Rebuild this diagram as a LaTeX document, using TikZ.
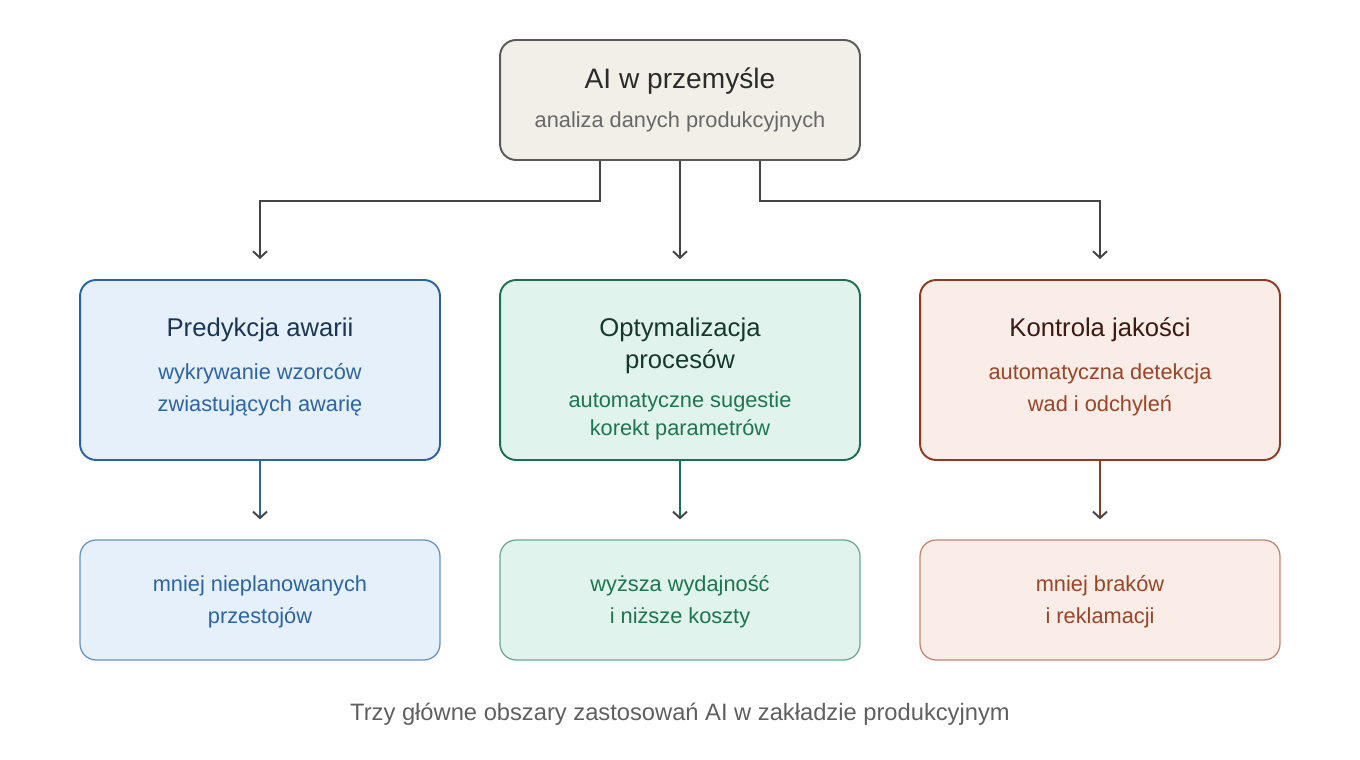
\documentclass[tikz,border=0pt]{standalone}
\usepackage{fontspec}
\setmainfont{Liberation Sans}
\usetikzlibrary{arrows.meta,positioning,calc}

\definecolor{topfill}{HTML}{F2EEE8}
\definecolor{topline}{HTML}{5A5A5A}
\definecolor{toptext}{HTML}{2B2B2B}
\definecolor{topsub}{HTML}{686868}
\definecolor{bluefill}{HTML}{E6F0FA}
\definecolor{blueline}{HTML}{2B62A0}
\definecolor{bluelight}{HTML}{6790C0}
\definecolor{bluetitle}{HTML}{1C3552}
\definecolor{bluetext}{HTML}{2C64A4}
\definecolor{greenfill}{HTML}{E0F3EC}
\definecolor{greenline}{HTML}{1E6E50}
\definecolor{greenlight}{HTML}{6AA890}
\definecolor{greentitle}{HTML}{17382C}
\definecolor{greentext}{HTML}{1E7552}
\definecolor{redfill}{HTML}{FAECE6}
\definecolor{redline}{HTML}{8E3A22}
\definecolor{redlight}{HTML}{C28470}
\definecolor{redtitle}{HTML}{3A1A12}
\definecolor{redtext}{HTML}{9A4428}
\definecolor{arrowgray}{HTML}{444444}
\definecolor{captext}{HTML}{5F5F5F}

\tikzset{
  box/.style={draw, rounded corners=0.32cm, line width=1.1pt, minimum width=7.2cm, inner sep=0pt},
  mainbox/.style={box, minimum height=3.6cm},
  resbox/.style={box, minimum height=2.4cm, line width=0.7pt},
  ttl/.style={anchor=mid, font=\fontsize{14.6}{18}\selectfont},
  ttlml/.style={align=center, font=\fontsize{14.6}{18}\selectfont},
  sub/.style={align=center, font=\fontsize{12.4}{18}\selectfont},
  link/.style={line width=1.1pt, -{Straight Barb[length=1.3mm,width=2.8mm,color=arrowgray]}, shorten >=0.4cm}
}

\begin{document}
\begin{tikzpicture}[x=0.02cm,y=-0.02cm]
\useasboundingbox (0,0) rectangle (1360,760);

% Top box
\node[box, minimum height=2.4cm, fill=topfill, draw=topline] (ai) at (680,100) {};
\node[anchor=mid, text=toptext, font=\fontsize{16}{18}\selectfont] (ai-t) at (680,84) {AI w przemyśle};
\node[anchor=mid, text=topsub, font=\fontsize{12.4}{16}\selectfont] (ai-s) at (680,123) {analiza danych produkcyjnych};

% Three areas
\node[mainbox, fill=bluefill, draw=blueline] (pa) at (260,370) {};
\node[ttl, text=bluetitle] (pa-t) at (260,332) {Predykcja awarii};
\node[sub, text=bluetext] (pa-s) at (260,390) {wykrywanie wzorców\\zwiastujących awarię};

\node[mainbox, fill=greenfill, draw=greenline] (op) at (680,370) {};
\node[ttlml, text=greentitle] (op-t) at (680,346) {Optymalizacja\\procesów};
\node[sub, text=greentext, font=\fontsize{12.4}{16}\selectfont] (op-s) at (680,416) {automatyczne sugestie\\korekt parametrów};

\node[mainbox, fill=redfill, draw=redline] (kj) at (1100,370) {};
\node[ttl, text=redtitle] (kj-t) at (1100,332) {Kontrola jakości};
\node[sub, text=redtext] (kj-s) at (1100,390) {automatyczna detekcja\\wad i odchyleń};

% Results
\node[resbox, fill=bluefill, draw=bluelight] (pa-r) at (260,600) {};
\node[sub, text=bluetext] (pa-rt) at (260,602) {mniej nieplanowanych\\przestojów};

\node[resbox, fill=greenfill, draw=greenlight] (op-r) at (680,600) {};
\node[sub, text=greentext] (op-rt) at (680,602) {wyższa wydajność\\i niższe koszty};

\node[resbox, fill=redfill, draw=redlight] (kj-r) at (1100,600) {};
\node[sub, text=redtext] (kj-rt) at (1100,602) {mniej braków\\i reklamacji};

% Connectors
\draw[link, arrowgray] ($(ai.south)+(-80,0)$) -- ++(0,40) -| (pa.north);
\draw[link, arrowgray] (ai.south) -- (op.north);
\draw[link, arrowgray] ($(ai.south)+(80,0)$) -- ++(0,40) -| (kj.north);

\draw[link, blueline] (pa.south) -- (pa-r.north);
\draw[link, greenline] (op.south) -- (op-r.north);
\draw[link, redline] (kj.south) -- (kj-r.north);

% Caption
\node[anchor=mid, text=captext, font=\fontsize{13.5}{16}\selectfont] (cap) at (680,716) {Trzy główne obszary zastosowań AI w zakładzie produkcyjnym};
\end{tikzpicture}
\end{document}
